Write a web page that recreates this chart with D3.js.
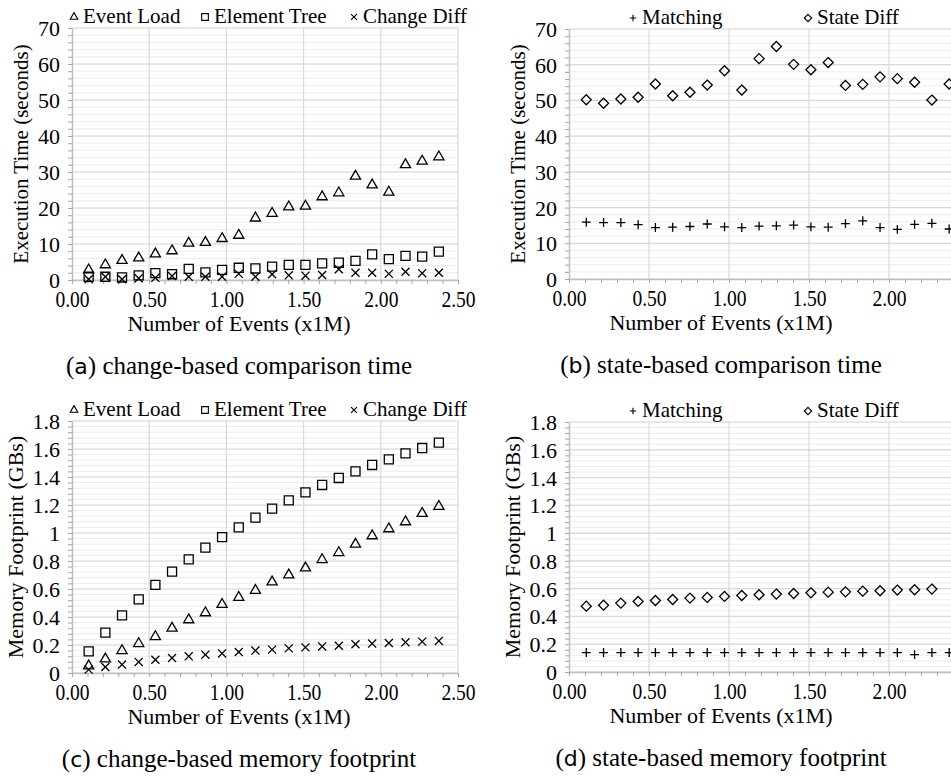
<!DOCTYPE html>
<html>
<head>
<meta charset="utf-8">
<script src="https://cdn.jsdelivr.net/npm/d3@7"></script>
<style>
  body { margin: 0; background: #fff; }
</style>
</head>
<body>
<div id="chart"></div>
<script>
// number of events (x1M), same for every series
var events = [0.108, 0.216, 0.324, 0.432, 0.540, 0.648, 0.756, 0.864, 0.972, 1.080, 1.188,
              1.296, 1.404, 1.512, 1.620, 1.728, 1.836, 1.944, 2.052, 2.160, 2.268, 2.376];

// (a) change-based comparison time (seconds)
var timeEventLoad   = [3.2, 4.6, 5.8, 6.5, 7.6, 8.5, 10.6, 10.8, 11.9, 12.8, 17.6,
                       18.9, 20.7, 20.9, 23.5, 24.6, 29.2, 26.8, 24.8, 32.4, 33.4, 34.6];
var timeElementTree = [0.9, 0.9, 0.7, 1.3, 1.9, 1.6, 3.1, 2.1, 2.8, 3.4, 3.2,
                       3.7, 4.2, 4.2, 4.6, 4.8, 5.3, 7.1, 5.8, 6.7, 6.5, 7.9];
var timeChangeDiff  = [0.2, 0.9, 0.2, 0.5, 0.6, 1.1, 0.9, 0.9, 0.9, 1.7, 0.9,
                       1.6, 1.3, 1.2, 1.4, 3.0, 2.0, 2.0, 1.7, 2.3, 1.9, 2.0];

// (b) state-based comparison time (seconds)
var timeMatching  = [15.9, 15.8, 15.8, 15.2, 14.4, 14.5, 14.7, 15.4, 14.6, 14.4, 14.8,
                     14.9, 15.1, 14.6, 14.5, 15.5, 16.3, 14.4, 13.9, 15.3, 15.6, 14.0];
var timeStateDiff = [50.2, 49.2, 50.4, 50.9, 54.6, 51.3, 52.3, 54.3, 58.3, 52.9, 61.7,
                     65.1, 60.1, 58.6, 60.6, 54.2, 54.5, 56.6, 56.1, 55.1, 50.1, 54.6];

// (c) change-based memory footprint (GBs)
var memEventLoad   = [0.06, 0.11, 0.17, 0.22, 0.27, 0.33, 0.39, 0.44, 0.50, 0.55, 0.60,
                      0.66, 0.71, 0.76, 0.82, 0.87, 0.93, 0.99, 1.04, 1.09, 1.15, 1.20];
var memElementTree = [0.155, 0.288, 0.412, 0.526, 0.629, 0.724, 0.812, 0.895, 0.971, 1.040, 1.110,
                      1.174, 1.233, 1.290, 1.343, 1.393, 1.440, 1.486, 1.526, 1.569, 1.607, 1.645];
var memChangeDiff  = [0.024, 0.043, 0.060, 0.079, 0.095, 0.107, 0.119, 0.131, 0.140, 0.150, 0.160,
                      0.167, 0.176, 0.183, 0.190, 0.195, 0.205, 0.210, 0.214, 0.219, 0.224, 0.229];

// (d) state-based memory footprint (GBs)
var memMatching  = [0.14, 0.14, 0.14, 0.14, 0.14, 0.14, 0.14, 0.14, 0.14, 0.14, 0.14,
                    0.14, 0.14, 0.14, 0.14, 0.14, 0.14, 0.14, 0.14, 0.125, 0.14, 0.14];
var memStateDiff = [0.474, 0.481, 0.496, 0.508, 0.515, 0.522, 0.532, 0.537, 0.544, 0.551, 0.556,
                    0.561, 0.565, 0.570, 0.575, 0.577, 0.582, 0.585, 0.590, 0.592, 0.597];

// tick labels
var xTicks    = [0, 0.5, 1, 1.5, 2, 2.5];
var timeTicks = [0, 10, 20, 30, 40, 50, 60, 70];
var memTicks  = [0, 0.2, 0.4, 0.6, 0.8, 1, 1.2, 1.4, 1.6, 1.8];

var W = 951;
var SERIF = "Liberation Serif";
var SANS = "DejaVu Sans";

var svg = d3.select("#chart").append("svg")
  .attr("width", W)
  .attr("height", 776);

var markers = {
  triangle: { type: d3.symbolTriangle2, size: 74, dy: 1.4 },
  square:   { type: d3.symbolSquare2,   size: 104, dy: 0 },
  times:    { type: d3.symbolTimes,     size: 44, dy: 0 },
  plus:     { type: d3.symbolPlus,      size: 28, dy: 0 },
  diamond:  { type: d3.symbolDiamond2,  size: 64, dy: 0 }
};

// one family name and px units: that is what gives the serif face here
function font(sel, size, fam) {
  return sel.attr("font-family", fam || SERIF).attr("font-size", size + "px").attr("fill", "#000");
}

function drawPanel(p) {
  var g = svg.append("g");

  var x = d3.scaleLinear().domain([0, 2.5]).range([p.left, p.left + p.w]);
  var y = d3.scaleLinear().domain([0, p.yMax]).range([p.top + p.h, p.top]);

  var yMinor = d3.range(0, p.yMax + p.yStep / 10, p.yStep / 5);
  var xMinor = d3.range(0, 2.501, 0.1);

  // minor horizontal grid
  g.append("g").selectAll("line")
    .data(yMinor)
    .join("line")
    .attr("x1", p.left).attr("x2", p.left + p.w)
    .attr("y1", d => y(d)).attr("y2", d => y(d))
    .attr("stroke", "#ececec")
    .attr("stroke-width", 1);

  // major grid
  g.append("g").selectAll("line")
    .data(p.yTicks)
    .join("line")
    .attr("x1", p.left).attr("x2", p.left + p.w)
    .attr("y1", d => y(d)).attr("y2", d => y(d))
    .attr("stroke", "#d9d9d9")
    .attr("stroke-width", 1.2);

  g.append("g").selectAll("line")
    .data(xTicks.slice(1))
    .join("line")
    .attr("x1", d => x(d)).attr("x2", d => x(d))
    .attr("y1", p.top).attr("y2", p.top + p.h)
    .attr("stroke", "#d9d9d9")
    .attr("stroke-width", 1.2);

  // axes: minor ticks + line
  var leftMinor = g.append("g")
    .attr("transform", `translate(${p.left},0)`)
    .call(d3.axisLeft(y).tickValues(yMinor).tickSize(4).tickSizeOuter(0).tickFormat(""));
  var bottomMinor = g.append("g")
    .attr("transform", `translate(0,${p.top + p.h})`)
    .call(d3.axisBottom(x).tickValues(xMinor).tickSize(4).tickSizeOuter(0).tickFormat(""));
  [leftMinor, bottomMinor].forEach(function(a) {
    a.select(".domain").attr("stroke", "#bfbfbf").attr("stroke-width", 1.5);
    a.selectAll(".tick line").attr("stroke", "#a6a6a6");
  });

  // tick labels
  var leftLab = g.append("g")
    .attr("transform", `translate(${p.left},0)`)
    .call(d3.axisLeft(y).tickValues(p.yTicks).tickSize(0).tickPadding(12).tickFormat(p.yFormat));
  leftLab.select(".domain").remove();
  font(leftLab, 22);
  font(leftLab.selectAll("text"), 22).attr("dy", "0.34em");

  // labels whose text would fall past the page edge are left out, as in the figure
  var xShown = xTicks.filter(d => x(d) + 17 <= W);
  var bottomLab = g.append("g")
    .attr("transform", `translate(0,${p.top + p.h})`)
    .call(d3.axisBottom(x).tickValues(xShown).tickSize(0).tickPadding(0).tickFormat(d3.format(".2f")));
  bottomLab.select(".domain").remove();
  font(bottomLab, 23);
  font(bottomLab.selectAll("text"), 23)
    .attr("dy", 0)
    .attr("y", 0)
    .attr("transform", "translate(0,27) scale(0.85,1)");

  // axis titles
  font(g.append("text"), p.yTitleSize)
    .attr("transform", `translate(${p.yTitleX},${p.top + p.h / 2}) rotate(-90)`)
    .attr("text-anchor", "middle")
    .text(p.yTitle);

  font(g.append("text"), 22)
    .attr("x", p.xTitleX)
    .attr("y", p.top + p.h + 51)
    .attr("text-anchor", "middle")
    .text("Number of Events (x1M)");

  // caption
  var cap = font(g.append("text"), 25)
    .attr("x", p.xTitleX)
    .attr("y", p.top + p.h + 94)
    .attr("text-anchor", "middle");
  cap.append("tspan").text("(");
  font(cap.append("tspan"), 22, SANS).text(p.letter);
  cap.append("tspan").text(") " + p.caption);

  // series
  p.series.forEach(function(s) {
    var m = markers[s.marker];
    var pts = s.values.map((v, i) => [events[i], v]);
    g.append("g").selectAll("path")
      .data(pts)
      .join("path")
      .attr("transform", d => `translate(${x(d[0])},${y(d[1]) + m.dy})`)
      .attr("d", d3.symbol().type(m.type).size(m.size))
      .attr("fill", "none")
      .attr("stroke", "#000")
      .attr("stroke-width", 1.3);

    // legend entry
    g.append("path")
      .attr("transform", `translate(${s.lx},${p.top - 11})`)
      .attr("d", d3.symbol().type(m.type).size(m.size * 0.55))
      .attr("fill", "none")
      .attr("stroke", "#000")
      .attr("stroke-width", 1.1);
    font(g.append("text"), s.fs)
      .attr("x", s.lx + 9)
      .attr("y", p.top - 5)
      .text(s.name);
  });
}

drawPanel({
  left: 72, top: 28, w: 386, h: 252, yMax: 70, yStep: 10, yTicks: timeTicks,
  yFormat: d => String(d), yTitle: "Execution Time (seconds)", yTitleX: 28, yTitleSize: 21,
  xTitleX: 239, letter: "a", caption: "change-based comparison time",
  series: [
    { name: "Event Load", values: timeEventLoad, marker: "triangle", lx: 74, fs: 21 },
    { name: "Element Tree", values: timeElementTree, marker: "square", lx: 205, fs: 21 },
    { name: "Change Diff", values: timeChangeDiff, marker: "times", lx: 354, fs: 21 }
  ]
});

drawPanel({
  left: 569, top: 29, w: 400, h: 250, yMax: 70, yStep: 10, yTicks: timeTicks,
  yFormat: d => String(d), yTitle: "Execution Time (seconds)", yTitleX: 525, yTitleSize: 21,
  xTitleX: 721, letter: "b", caption: "state-based comparison time",
  series: [
    { name: "Matching", values: timeMatching, marker: "plus", lx: 633, fs: 21 },
    { name: "State Diff", values: timeStateDiff, marker: "diamond", lx: 808, fs: 21 }
  ]
});

drawPanel({
  left: 72, top: 421, w: 386, h: 252, yMax: 1.8, yStep: 0.2, yTicks: memTicks,
  yFormat: d => String(+d.toFixed(1)), yTitle: "Memory Footprint (GBs)", yTitleX: 23, yTitleSize: 22,
  xTitleX: 239, letter: "c", caption: "change-based memory footprint",
  series: [
    { name: "Event Load", values: memEventLoad, marker: "triangle", lx: 74, fs: 21 },
    { name: "Element Tree", values: memElementTree, marker: "square", lx: 205, fs: 21 },
    { name: "Change Diff", values: memChangeDiff, marker: "times", lx: 354, fs: 21 }
  ]
});

drawPanel({
  left: 569, top: 422, w: 400, h: 250, yMax: 1.8, yStep: 0.2, yTicks: memTicks,
  yFormat: d => String(+d.toFixed(1)), yTitle: "Memory Footprint (GBs)", yTitleX: 520, yTitleSize: 22,
  xTitleX: 721, letter: "d", caption: "state-based memory footprint",
  series: [
    { name: "Matching", values: memMatching, marker: "plus", lx: 633, fs: 21 },
    { name: "State Diff", values: memStateDiff, marker: "diamond", lx: 808, fs: 21 }
  ]
});
</script>
</body>
</html>
